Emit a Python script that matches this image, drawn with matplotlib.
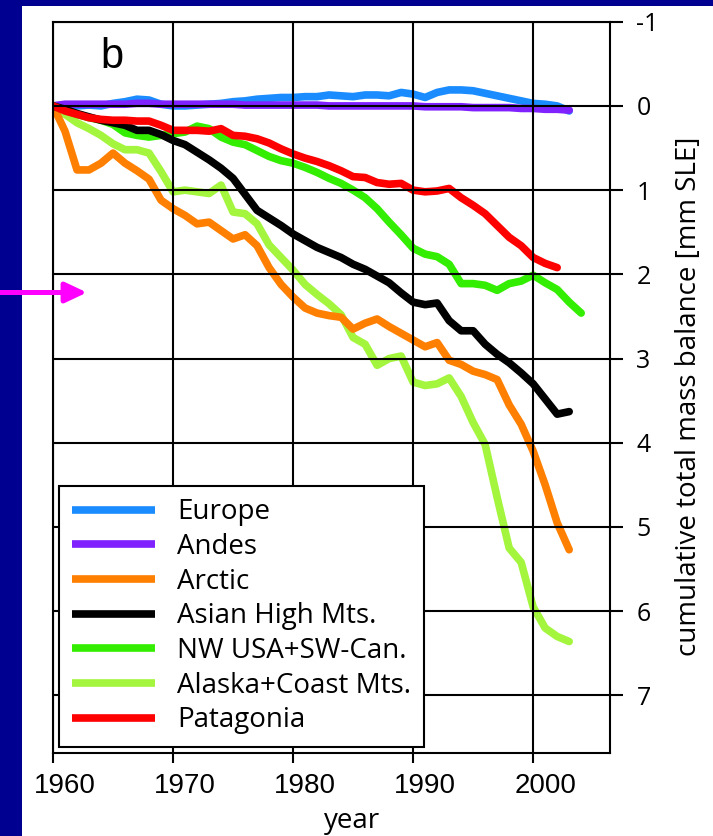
import numpy as np
import matplotlib
matplotlib.use('Agg')
import matplotlib.pyplot as plt
import matplotlib.transforms as mtransforms
from matplotlib.patches import Rectangle, FancyArrowPatch

#----------- data -----------
years = list(range(1960, 2004))          # 1960 .. 2003
years_nw = list(range(1960, 2005))       # NW USA runs to 2004
years_pat = list(range(1960, 2003))      # Patagonia ends 2002

europe = [0.0, -0.01, 0.0, -0.01, 0.0, -0.03, -0.05, -0.08, -0.07, -0.02,
          0.0, 0.0, -0.01, -0.02, -0.03, -0.05, -0.06, -0.08, -0.09, -0.1,
          -0.1, -0.11, -0.11, -0.13, -0.12, -0.11, -0.13, -0.13, -0.12, -0.16,
          -0.14, -0.1, -0.16, -0.19, -0.19, -0.18, -0.15, -0.12, -0.09, -0.06,
          -0.03, -0.02, 0.0, 0.06]
andes = [0.0, -0.02, -0.02, -0.02, -0.02, -0.02, -0.02, -0.03, -0.03, -0.02,
         -0.02, -0.02, -0.02, -0.02, -0.02, -0.02, -0.01, -0.01, -0.01, -0.01,
         -0.01, -0.01, -0.01, 0.0, 0.0, 0.0, 0.0, 0.0, 0.0, 0.0,
         0.0, 0.01, 0.01, 0.01, 0.01, 0.02, 0.02, 0.02, 0.02, 0.03,
         0.03, 0.04, 0.04, 0.05]
arctic = [0.0, 0.3, 0.76, 0.76, 0.68, 0.56, 0.68, 0.77, 0.87, 1.12,
          1.22, 1.3, 1.4, 1.38, 1.48, 1.58, 1.53, 1.66, 1.92, 2.12,
          2.27, 2.4, 2.46, 2.49, 2.51, 2.65, 2.58, 2.53, 2.62, 2.7,
          2.78, 2.86, 2.81, 3.02, 3.07, 3.15, 3.19, 3.25, 3.55, 3.78,
          4.1, 4.5, 4.95, 5.27]
asian = [0.0, 0.04, 0.09, 0.13, 0.17, 0.2, 0.23, 0.29, 0.29, 0.34,
         0.41, 0.46, 0.55, 0.64, 0.74, 0.86, 1.05, 1.24, 1.33, 1.42,
         1.52, 1.6, 1.68, 1.74, 1.8, 1.88, 1.94, 2.02, 2.1, 2.22,
         2.33, 2.36, 2.34, 2.55, 2.67, 2.67, 2.83, 2.95, 3.05, 3.17,
         3.3, 3.48, 3.66, 3.63]
nw_usa = [0.0, 0.05, 0.1, 0.14, 0.17, 0.22, 0.32, 0.35, 0.37, 0.35,
          0.33, 0.31, 0.24, 0.27, 0.37, 0.43, 0.46, 0.53, 0.6, 0.65,
          0.68, 0.73, 0.79, 0.86, 0.92, 1.0, 1.09, 1.22, 1.38, 1.53,
          1.69, 1.76, 1.79, 1.88, 2.11, 2.11, 2.13, 2.19, 2.11, 2.08,
          2.01, 2.1, 2.18, 2.33, 2.46]
alaska = [0.0, 0.1, 0.2, 0.27, 0.35, 0.45, 0.52, 0.52, 0.56, 0.78,
          1.02, 1.0, 1.02, 1.04, 0.94, 1.26, 1.28, 1.4, 1.65, 1.8,
          1.95, 2.12, 2.24, 2.35, 2.48, 2.75, 2.83, 3.08, 3.0, 2.97,
          3.28, 3.32, 3.3, 3.23, 3.45, 3.76, 4.02, 4.65, 5.25, 5.42,
          5.95, 6.2, 6.3, 6.36]
patagonia = [0.0, 0.06, 0.1, 0.14, 0.16, 0.17, 0.17, 0.18, 0.18, 0.23,
             0.29, 0.29, 0.29, 0.3, 0.27, 0.35, 0.36, 0.39, 0.44, 0.51,
             0.57, 0.62, 0.66, 0.71, 0.77, 0.84, 0.85, 0.91, 0.93, 0.92,
             1.0, 1.02, 1.01, 0.98, 1.09, 1.18, 1.28, 1.42, 1.56, 1.66,
             1.8, 1.87, 1.92]

series_names = ['Europe', 'Andes', 'Arctic', 'Asian High Mts.',
                'NW USA+SW-Can.', 'Alaska+Coast Mts.', 'Patagonia']
series_colors = ['#1a8cff', '#7f22ff', '#ff7f00', '#000000',
                 '#33ee00', '#a3f53d', '#ff0000']

y_ticks = [-1, 0, 1, 2, 3, 4, 5, 6, 7]
x_ticks = [1960, 1970, 1980, 1990, 2000]
arrow_level = 2.2
#---------------------------------------------------

plt.rcParams['axes.unicode_minus'] = False

navy = '#000090'
fig = plt.figure(figsize=(7.13, 8.36), dpi=100, facecolor=navy)
# white slide panel (navy strip left and top)
panel = Rectangle((22 / 713, 0), 1, 1 - 6 / 836, transform=fig.transFigure,
                  facecolor='white', edgecolor='none', zorder=-5)
fig.patches.append(panel)

ax = fig.add_axes([53 / 713, 1 - 752.7 / 836, 557 / 713, 731 / 836])
ax.set_facecolor('white')
ax.set_zorder(1)

data = [(years, europe), (years, andes), (years, arctic), (years, asian),
        (years_nw, nw_usa), (years, alaska), (years_pat, patagonia)]
draw_order = [0, 1, 5, 2, 4, 3, 6]
handles = [None] * len(data)
for i in draw_order:
    x, y = data[i]
    ln, = ax.plot(x, y, color=series_colors[i], lw=5.5, label=series_names[i],
                  solid_capstyle='round', solid_joinstyle='round')
    handles[i] = ln

ax.set_xlim(1960, 2006.4)
ax.set_ylim(7.68, -1)

ax.set_xticks(x_ticks)
ax.set_yticks(y_ticks)
ax.yaxis.tick_right()
ax.grid(True, color='black', lw=1.5)
ax.set_axisbelow(False)
for sp in ax.spines.values():
    sp.set_linewidth(1.5)
    sp.set_color('black')

ax.tick_params(axis='y', direction='out', length=9, width=1.5, pad=10,
               labelsize=18, labelfontfamily='Open Sans', right=True, left=False)
ax.tick_params(axis='x', direction='out', length=7.5, width=1.5, pad=7,
               labelsize=20, labelfontfamily='Liberation Sans')
shift = mtransforms.ScaledTranslation(0.12, 0, fig.dpi_scale_trans)
for lab in ax.get_xticklabels():
    lab.set_transform(lab.get_transform() + shift)

fig.text(689 / 713, 1 - 396.5 / 836, 'cumulative total mass balance [mm SLE]',
         fontsize=20, family='Open Sans', rotation=90, ha='center', va='center')
fig.text(352.5 / 713, 8 / 836, 'year', ha='center', va='baseline', fontsize=20,
         family='Open Sans')

ax.text(1964.9, -0.58, 'b', fontsize=30, family='Liberation Sans',
        ha='center', va='center')

leg = ax.legend(handles=handles, loc='lower left', bbox_to_anchor=(0.011, 0.008),
                prop={'family': 'Open Sans', 'size': 20},
                frameon=True, fancybox=False, framealpha=1, edgecolor='black',
                handlelength=3.0, handletextpad=0.8, labelspacing=0.24,
                borderpad=0.45, borderaxespad=0)
leg.get_frame().set_linewidth(1.5)
leg.set_zorder(5)
for h in leg.get_lines():
    h.set_linewidth(5.5)
    h.set_solid_capstyle('butt')

# magenta pointer on the left
arrow = FancyArrowPatch(posA=(0, 1 - 292.5 / 836), posB=(87 / 713, 1 - 292.5 / 836),
                        transform=fig.transFigure, shrinkA=0, shrinkB=0,
                        arrowstyle='-|>,head_length=1.0,head_width=0.47',
                        color='#ff00ff', lw=3.6, mutation_scale=13, zorder=10)
fig.add_artist(arrow)

fig.savefig('out.png', dpi=100, facecolor=navy)
